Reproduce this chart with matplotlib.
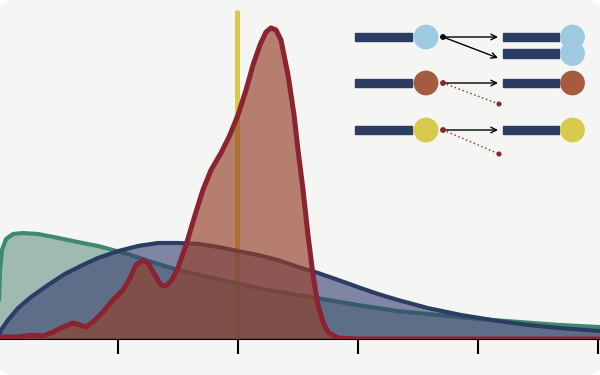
import matplotlib

matplotlib.use("Agg")

import matplotlib.pyplot as plt
from matplotlib.patches import Circle, FancyBboxPatch, Rectangle

# density curves (x in axis units, y in density units)
green_x = [0.0, 0.008, 0.017, 0.033, 0.067, 0.125, 0.208, 0.333, 0.5, 0.667, 0.833, 1.083, 1.333,
           1.5, 1.75, 1.975, 2.25, 2.5, 2.75, 3.0, 3.333, 3.667, 4.0, 4.333, 4.667, 5.0, 5.1]
green_y = [0.0, 0.130, 0.230, 0.297, 0.333, 0.350, 0.353, 0.350, 0.337, 0.323, 0.310, 0.283, 0.250,
           0.230, 0.207, 0.187, 0.163, 0.147, 0.130, 0.113, 0.093, 0.080, 0.067, 0.057, 0.047, 0.040, 0.038]

blue_x = [0.0, 0.025, 0.083, 0.167, 0.275, 0.417, 0.558, 0.708, 0.833, 1.0, 1.167, 1.333, 1.5, 1.667,
          1.833, 2.0, 2.167, 2.333, 2.5, 2.667, 2.833, 3.0, 3.167, 3.333, 3.583, 3.858, 4.167, 4.417,
          4.667, 5.0, 5.1]
blue_y = [0.0, 0.030, 0.063, 0.103, 0.140, 0.180, 0.217, 0.247, 0.270, 0.293, 0.310, 0.320, 0.320, 0.317,
          0.307, 0.293, 0.280, 0.263, 0.240, 0.220, 0.197, 0.173, 0.150, 0.130, 0.103, 0.080, 0.060, 0.047,
          0.037, 0.027, 0.025]

red_x = [0.0, 0.167, 0.292, 0.375, 0.458, 0.542, 0.625, 0.683, 0.733, 0.792, 0.875, 0.958, 1.042, 1.1,
         1.15, 1.208, 1.25, 1.308, 1.358, 1.4, 1.45, 1.5, 1.567, 1.642, 1.708, 1.775, 1.858, 1.933, 2.0,
         2.067, 2.125, 2.183, 2.233, 2.275, 2.317, 2.358, 2.417, 2.467, 2.5, 2.542, 2.583, 2.625, 2.667,
         2.708, 2.75, 2.833, 3.0, 5.1]
red_y = [0.007, 0.007, 0.013, 0.010, 0.023, 0.040, 0.053, 0.047, 0.040, 0.057, 0.090, 0.130, 0.163, 0.203,
         0.247, 0.263, 0.253, 0.213, 0.180, 0.177, 0.197, 0.237, 0.313, 0.413, 0.497, 0.563, 0.620, 0.680, 0.747,
         0.830, 0.913, 0.980, 1.023, 1.037, 1.030, 0.997, 0.880, 0.747, 0.630, 0.497, 0.347, 0.213, 0.113,
         0.057, 0.023, 0.003, 0.0, 0.0]

marker_x = 1.99
ticks = [1, 2, 3, 4, 5]

BG = "#f5f5f3"
GREEN = "#3d8a72"
BLUE = "#2b3d63"
RED = "#8b2330"
YELLOW = "#d9c94c"
LIGHTBLUE = "#9ecae1"
BROWN = "#a65b40"

fig = plt.figure(figsize=(6, 3.75), dpi=100, facecolor="white")
fig.add_artist(FancyBboxPatch((0, 0), 1, 1, boxstyle="round,pad=0,rounding_size=0.025",
                              transform=fig.transFigure, facecolor=BG, edgecolor="none", zorder=-1))

ax = fig.add_axes([0, 36 / 375, 1, 339 / 375])
ax.set_facecolor("none")
ax.set_xlim(0.0167, 5.0167)
ax.set_ylim(0, 1.13)

ax.vlines(marker_x, 0, 1.097, color=YELLOW, lw=3.6, zorder=1)

ax.fill_between(green_x, green_y, color="#4a8070", alpha=0.5, lw=0, zorder=3)
ax.plot(green_x, green_y, color=GREEN, lw=3, solid_joinstyle="round", zorder=4)
ax.fill_between(blue_x, blue_y, color="#333a6e", alpha=0.6, lw=0, zorder=5)
ax.plot(blue_x, blue_y, color=BLUE, lw=3, solid_joinstyle="round", zorder=6)
ax.fill_between(red_x, red_y, color="#953f28", alpha=0.65, lw=0, zorder=7)
ax.plot(red_x, red_y, color=RED, lw=3.6, solid_joinstyle="round", zorder=8)

for side in ["top", "right", "left"]:
    ax.spines[side].set_visible(False)
ax.spines["bottom"].set_linewidth(1.5)
ax.spines["bottom"].set_zorder(2)
ax.set_xticks(ticks)
ax.set_xticklabels([])
ax.set_yticks([])
ax.tick_params(axis="x", direction="out", length=11, width=1.5, color="black")

# schematic inset in pixel coordinates
ov = fig.add_axes([0, 0, 1, 1])
ov.set_xlim(0, 600)
ov.set_ylim(375, 0)
ov.axis("off")

row_y = [37, 83, 130]
row_colors = [LIGHTBLUE, BROWN, YELLOW]
dot_colors = ["black", RED, RED]
for y, c, dc in zip(row_y, row_colors, dot_colors):
    ov.add_patch(Rectangle((355, y - 4.2), 57, 8.4, color=BLUE))
    ov.add_patch(Circle((426, y), 11.7, color=c))
    ov.annotate("", xy=(498, y), xytext=(443, y),
                arrowprops=dict(arrowstyle="->", color="black", lw=1, shrinkA=0, shrinkB=0))
    ov.add_patch(Circle((443, y), 2.2, color=dc, zorder=3))
    ov.add_patch(Rectangle((503, y - 4.2), 56, 8.4, color=BLUE))
    ov.add_patch(Circle((572.5, y), 11.7, color=c))

# duplicated item in the first row
ov.annotate("", xy=(498, 58), xytext=(443, 37),
            arrowprops=dict(arrowstyle="->", color="black", lw=1, shrinkA=0, shrinkB=0))
ov.add_patch(Rectangle((503, 49.3), 56, 8.4, color=BLUE))
ov.add_patch(Circle((572.5, 53.5), 11.7, color=LIGHTBLUE))

# lost items (dotted)
for y, y_end in [(83, 104), (130, 154)]:
    ov.plot([443, 499], [y, y_end], color=RED, lw=1, ls=(0, (1, 2)))
    ov.add_patch(Circle((499, y_end), 1.8, color=RED))

fig.savefig("out.png", dpi=100, facecolor=fig.get_facecolor())
